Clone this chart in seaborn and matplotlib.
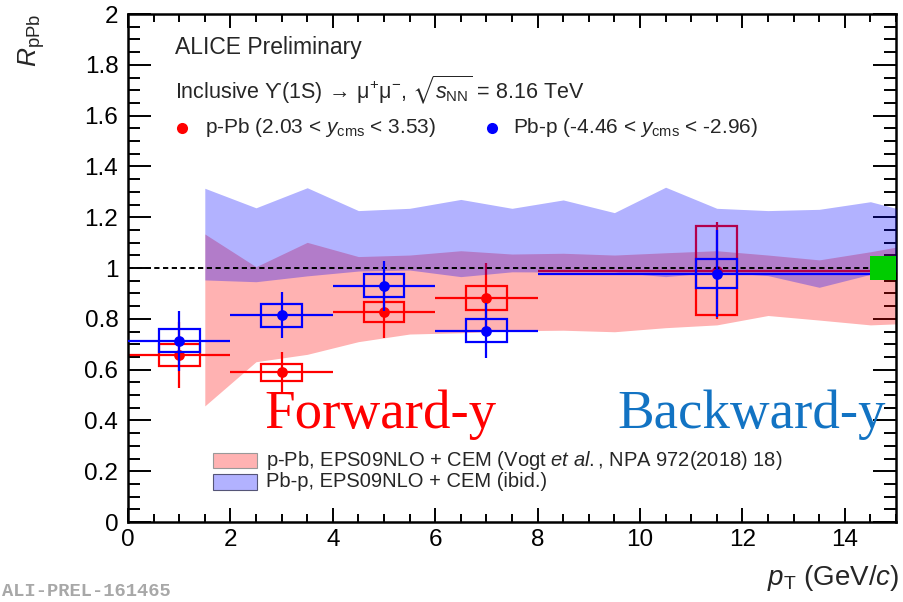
import matplotlib
matplotlib.use("Agg")
import matplotlib.pyplot as plt
from matplotlib.patches import Rectangle
from matplotlib.ticker import MultipleLocator, FormatStrFormatter
import numpy as np
import pandas as pd
import seaborn as sns

# pT bins of the Upsilon(1S) measurement
pt_centre = [1.0, 3.0, 5.0, 7.0, 11.5]
pt_low = [0.0, 2.0, 4.0, 6.0, 8.0]
pt_high = [2.0, 4.0, 6.0, 8.0, 15.0]

# p-Pb, forward rapidity
fwd_r = [0.657, 0.589, 0.826, 0.881, 0.990]
fwd_stat = [0.130, 0.080, 0.100, 0.137, 0.190]
fwd_syst = [0.043, 0.032, 0.040, 0.047, 0.176]

# Pb-p, backward rapidity
bwd_r = [0.714, 0.814, 0.930, 0.753, 0.978]
bwd_stat = [0.118, 0.090, 0.099, 0.109, 0.170]
bwd_syst = [0.046, 0.045, 0.045, 0.046, 0.056]

# correlated (global) uncertainty around unity
global_unc = 0.048

# EPS09NLO + CEM predictions (band edges)
model_pt = [1.5, 2.5, 3.5, 4.5, 5.5, 6.5, 7.5, 8.5, 9.5, 10.5, 11.5, 12.5, 13.5, 14.5, 15.0]
fwd_model_lo = [0.457, 0.631, 0.660, 0.710, 0.740, 0.745, 0.753, 0.755, 0.749, 0.765,
                0.776, 0.813, 0.795, 0.776, 0.780]
fwd_model_hi = [1.134, 1.005, 1.101, 1.045, 1.051, 1.068, 1.055, 1.058, 1.051, 1.060,
                1.068, 1.051, 1.032, 1.064, 1.082]
bwd_model_lo = [0.953, 0.946, 0.969, 0.988, 0.992, 0.966, 0.985, 0.984, 0.984, 0.966,
                0.984, 0.970, 0.924, 0.975, 0.985]
bwd_model_hi = [1.314, 1.237, 1.316, 1.226, 1.235, 1.270, 1.235, 1.268, 1.218, 1.318,
                1.235, 1.226, 1.231, 1.261, 1.235]

sns.set_theme(style="ticks")
plt.rcParams.update({
    "font.family": ["Liberation Sans", "DejaVu Sans"],
    "mathtext.fontset": "custom",
    "mathtext.rm": "Liberation Sans",
    "mathtext.it": "Liberation Sans:italic",
    "mathtext.bf": "Liberation Sans:bold",
    "mathtext.sf": "Liberation Sans",
    "mathtext.fallback": "stixsans",
    "axes.linewidth": 1.8,
})

fwd = pd.DataFrame({"pt": pt_centre, "lo": pt_low, "hi": pt_high,
                    "r": fwd_r, "stat": fwd_stat, "syst": fwd_syst})
bwd = pd.DataFrame({"pt": pt_centre, "lo": pt_low, "hi": pt_high,
                    "r": bwd_r, "stat": bwd_stat, "syst": bwd_syst})

fig = plt.figure(figsize=(9.04, 6.02), dpi=100)
ax = fig.add_axes([0.14159, 0.13289, 0.84956, 0.84385])

RED = (1.0, 0.0, 0.0)
BLUE = (0.0, 0.0, 1.0)
LW = 1.6
BOX_HW = 0.4


def draw_points(df, colour, z):
    ax.errorbar(df["pt"], df["r"],
                xerr=[df["pt"] - df["lo"], df["hi"] - df["pt"]],
                yerr=df["stat"], fmt="none", ecolor=colour, elinewidth=LW,
                capsize=0, zorder=z)
    for x, y, s in zip(df["pt"], df["r"], df["syst"]):
        ax.add_patch(Rectangle((x - BOX_HW, y - s), 2 * BOX_HW, 2 * s,
                               fill=False, edgecolor=colour, lw=LW, zorder=z))
    sns.scatterplot(data=df, x="pt", y="r", ax=ax, color=colour, s=60,
                    linewidth=0, legend=False, zorder=z + 0.5)


# forward model band, then data, then backward band over it
ax.fill_between(model_pt, fwd_model_lo, fwd_model_hi, color=RED, alpha=0.3,
                lw=0, zorder=1)
draw_points(fwd, RED, 2)
ax.fill_between(model_pt, bwd_model_lo, bwd_model_hi, color=BLUE, alpha=0.3,
                lw=0, zorder=3)
ax.axhline(1.0, color="black", lw=1.4, ls=(0, (2.7, 1.8)), zorder=4)
draw_points(bwd, BLUE, 5)

# global uncertainty box at the right edge
ax.add_patch(Rectangle((14.5, 1.0 - global_unc), 0.5, 2 * global_unc,
                       facecolor=(0.0, 0.8, 0.0), edgecolor="none", zorder=7))

ax.set_xlim(0, 15)
ax.set_ylim(0, 2)
ax.xaxis.set_major_locator(MultipleLocator(2))
ax.xaxis.set_minor_locator(MultipleLocator(0.5))
ax.yaxis.set_major_locator(MultipleLocator(0.2))
ax.yaxis.set_minor_locator(MultipleLocator(0.05))
ax.yaxis.set_major_formatter(FormatStrFormatter("%g"))
ax.xaxis.set_major_formatter(FormatStrFormatter("%g"))
ax.tick_params(axis="both", which="both", direction="in", top=True, right=True,
               width=1.4, colors="black", labelsize=17.5)
ax.tick_params(axis="x", which="major", length=10, pad=5)
ax.tick_params(axis="x", which="minor", length=5.5)
ax.tick_params(axis="y", which="major", length=16.5, pad=7)
ax.tick_params(axis="y", which="minor", length=8.5)
ax.set_xlabel("")
ax.set_ylabel("")
for sp in ax.spines.values():
    sp.set_color("black")

# axis titles
ax.text(-0.126, 1.0, r"$R_{\mathrm{pPb}}$", rotation=90, ha="center", va="top",
        transform=ax.transAxes, fontsize=19)
ax.text(1.004, -0.125, r"$p_{\mathrm{T}}$ (GeV/$c$)", ha="right", va="baseline",
        transform=ax.transAxes, fontsize=20)

# header texts
ax.text(0.061, 0.935, "ALICE Preliminary", ha="left", va="center",
        transform=ax.transAxes, fontsize=16.5)
ax.text(0.061, 0.852,
        "Inclusive $\\mathrm{\u03d2}$(1S)$\\,\\rightarrow\\,"
        "\\mathrm{\\mu}^{+}\\mathrm{\\mu}^{-}$, "
        "$\\sqrt{s_{\\mathrm{NN}}}$ = 8.16 TeV",
        ha="left", va="center", transform=ax.transAxes, fontsize=15.5)

# data legend
ax.plot([0.0703], [0.7756], "o", color=RED, ms=8, mew=0, transform=ax.transAxes)
ax.plot([0.4740], [0.7756], "o", color=BLUE, ms=8, mew=0, transform=ax.transAxes)
ax.text(0.1003, 0.7756, r"p-Pb (2.03 < $y_{\mathrm{cms}}$ < 3.53)", ha="left",
        va="center", transform=ax.transAxes, fontsize=15)
ax.text(0.5013, 0.7756, r"Pb-p (-4.46 < $y_{\mathrm{cms}}$ < -2.96)", ha="left",
        va="center", transform=ax.transAxes, fontsize=15)

# rapidity labels
ax.text(0.178, 0.185, "Forward-y", color=(1.0, 0.0, 0.0), ha="left",
        va="baseline", transform=ax.transAxes, fontsize=39.5,
        family="Liberation Serif")
ax.text(0.637, 0.185, "Backward-y", color="#1273C3", ha="left",
        va="baseline", transform=ax.transAxes, fontsize=39.5,
        family="Liberation Serif")

# model legend
ax.add_patch(Rectangle((0.1103, 0.1057), 0.0573, 0.0295, transform=ax.transAxes,
                       facecolor=(1, 0, 0, 0.3), edgecolor="#999999", lw=0.8,
                       zorder=8))
ax.add_patch(Rectangle((0.1103, 0.0630), 0.0573, 0.0309, transform=ax.transAxes,
                       facecolor=(0, 0, 1, 0.3), edgecolor="#555577", lw=0.8,
                       zorder=8))
ax.text(0.1797, 0.121,
        r"p-Pb, EPS09NLO + CEM (Vogt $et$ $al.$, NPA 972(2018) 18)",
        ha="left", va="center", transform=ax.transAxes, fontsize=14.5)
ax.text(0.1797, 0.079, "Pb-p, EPS09NLO + CEM (ibid.)",
        ha="left", va="center", transform=ax.transAxes, fontsize=14.5)

fig.text(0.002, 0.018, "ALI-PREL-161465", color="#a8a8a8", ha="left",
         va="center", fontsize=13.5, family="Liberation Mono", weight="bold")

fig.savefig("out.png", dpi=100)
